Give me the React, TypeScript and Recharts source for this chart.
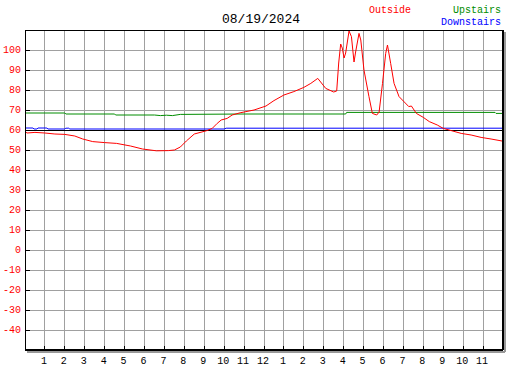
import React from 'react';
import { LineChart, Line, XAxis, YAxis, CartesianGrid, ReferenceLine } from 'recharts';

// x axis: hours of the day, labels shown on 12h clock
const hourTicks = [0, 1, 2, 3, 4, 5, 6, 7, 8, 9, 10, 11, 12, 13, 14, 15, 16, 17, 18, 19, 20, 21, 22, 23, 24];
const hourLabels = ['', '1', '2', '3', '4', '5', '6', '7', '8', '9', '10', '11', '12', '1', '2', '3', '4', '5', '6', '7', '8', '9', '10', '11', ''];
const tempTicks = [-50, -40, -30, -20, -10, 0, 10, 20, 30, 40, 50, 60, 70, 80, 90, 100, 110];

// Outside (red)
const outsideHours = [
  0, 0.1, 0.5, 1, 1.5, 2, 2.5, 2.9, 3.4, 4, 4.6, 5.3, 5.9, 6.6, 7.2, 7.5, 7.8, 8.1, 8.5, 9.1,
  9.4, 9.65, 9.85, 10.15, 10.4, 10.8, 11.5, 12.1, 12.5, 13, 13.5, 14, 14.35, 14.7, 15.1, 15.5,
  15.65, 15.75, 15.85, 15.93, 16.02, 16.1, 16.27, 16.39, 16.52, 16.6, 16.77, 16.86, 17.02, 17.27,
  17.44, 17.66, 17.78, 17.95, 18.11, 18.2, 18.36, 18.53, 18.78, 19.27, 19.4, 19.65, 20, 20.3,
  20.7, 21, 21.4, 21.9, 22.4, 22.9, 23.4, 23.95,
];
const outsideTemps = [
  59.3, 58.5, 58.8, 58.5, 58, 57.8, 57, 55.5, 54.2, 53.7, 53.3, 52, 50.5, 49.6, 49.7, 50, 51.5, 54.5, 58, 59.6,
  60.8, 63.3, 65, 65.8, 67.5, 68.6, 70, 72, 74.7, 77.5, 79.2, 81.3, 83.3, 85.8, 80.8, 79,
  79.5, 93.5, 103, 101, 96, 98.5, 109.5, 106.7, 94, 99, 108.3, 105, 90, 76.7,
  68.3, 67.5, 69, 83.3, 98.3, 102.5, 93.3, 83.3, 76.7, 71.7, 72, 68.3, 66.3, 64.2,
  62.5, 60.8, 59.7, 58.3, 57.5, 56.3, 55.5, 54.5,
];

// Upstairs (green)
const upstairsHours = [0, 2, 2.05, 4.5, 4.55, 6.5, 6.8, 7.1, 7.4, 7.8, 11, 16.1, 16.15, 23.6, 23.65, 24];
const upstairsTemps = [68.5, 68.5, 68, 68, 67.5, 67.5, 67.2, 67.4, 67.2, 67.8, 68, 68, 68.8, 68.8, 68.3, 68.3];

// Downstairs (blue)
const downstairsHours = [0, 0.4, 0.45, 0.6, 0.65, 1.1, 1.15, 2, 2.05, 2.2, 2.25, 10, 10.1, 24];
const downstairsTemps = [61, 61, 60.5, 60.5, 61, 61, 60.5, 60.5, 60.9, 60.9, 60.5, 60.5, 60.9, 60.9];

const outsideData = outsideHours.map((h, i) => ({ h, v: outsideTemps[i] }));
const upstairsData = upstairsHours.map((h, i) => ({ h, v: upstairsTemps[i] }));
const downstairsData = downstairsHours.map((h, i) => ({ h, v: downstairsTemps[i] }));

const FONT = '"Liberation Mono", "DejaVu Sans Mono", monospace';
const RED = '#ff0000';
const GREEN = '#008c00';
const BLUE = '#0000ff';

function YTick(props: any) {
  const { x, y, payload } = props;
  const v = payload.value;
  if (v === -50 || v === 110) return null;
  return (
    <g>
      <line x1={x} x2={x + 5} y1={y} y2={y} stroke="#000" shapeRendering="crispEdges" />
      <text x={x - 4} y={y} textAnchor="end" dominantBaseline="central" fill={RED} fontSize={10} fontFamily={FONT}>
        {v}
      </text>
    </g>
  );
}

function XTick(props: any) {
  const { x, y, payload, index } = props;
  const label = hourLabels[index] ?? '';
  if (payload.value === 0 || payload.value === 24) return null;
  return (
    <g>
      <line x1={x} x2={x} y1={y} y2={y - 4} stroke="#000" shapeRendering="crispEdges" />
      <text x={x - 1} y={y + 11} textAnchor="middle" dominantBaseline="central" fill="#000" fontSize={10} fontFamily={FONT}>
        {label}
      </text>
    </g>
  );
}

// thick frame edge with a grey drop shadow offset by 2px
const shadowEdge = (p: any) => (
  <g>
    <line x1={p.x1 + 2} y1={p.y1 + 2} x2={p.x2 + 2} y2={p.y2 + 2} stroke="#999" strokeWidth={2} shapeRendering="crispEdges" />
    <line x1={p.x1} y1={p.y1} x2={p.x2} y2={p.y2} stroke="#000" strokeWidth={2} shapeRendering="crispEdges" />
  </g>
);

const txt = (extra: React.CSSProperties): React.CSSProperties => ({
  position: 'absolute',
  fontFamily: FONT,
  fontSize: 10,
  lineHeight: '12px',
  whiteSpace: 'nowrap',
  ...extra,
});

export default function App() {
  return (
    <div style={{ position: 'absolute', left: 0, top: 0, width: 527, height: 370, background: '#fff' }}>
      <div style={txt({ left: 0, width: 522, top: 13, fontSize: 13, lineHeight: '14px', textAlign: 'center', color: '#000' })}>
        08/19/2024
      </div>
      <div style={txt({ left: 369, top: 5, color: RED })}>Outside</div>
      <div style={txt({ right: 26, top: 5, color: GREEN })}>Upstairs</div>
      <div style={txt({ right: 26, top: 17, color: BLUE })}>Downstairs</div>

      <LineChart width={527} height={370} margin={{ top: 30, right: 24, bottom: 0, left: 0 }}>
        <CartesianGrid stroke="#a0a0a0" strokeWidth={1} shapeRendering="crispEdges" />
        <XAxis
          type="number"
          dataKey="h"
          domain={[0, 24]}
          ticks={hourTicks}
          interval={0}
          height={20}
          axisLine={false}
          tickLine={false}
          tickSize={0}
          tickMargin={0}
          tick={<XTick />}
        />
        <YAxis
          type="number"
          domain={[-50, 110]}
          ticks={tempTicks}
          interval={0}
          width={25}
          axisLine={false}
          tickLine={false}
          tickSize={0}
          tickMargin={0}
          tick={<YTick />}
        />

        <ReferenceLine y={60} stroke="#000" shapeRendering="crispEdges" />

        <Line data={downstairsData} dataKey="v" type="linear" stroke={BLUE} strokeWidth={1} dot={false} isAnimationActive={false} />
        <Line data={upstairsData} dataKey="v" type="linear" stroke={GREEN} strokeWidth={1} dot={false} isAnimationActive={false} />
        <Line data={outsideData} dataKey="v" type="linear" stroke={RED} strokeWidth={1} dot={false} isAnimationActive={false} />

        <ReferenceLine y={110} stroke="#000" shapeRendering="crispEdges" />
        <ReferenceLine x={0} stroke="#000" shapeRendering="crispEdges" />
        <ReferenceLine x={24} shape={shadowEdge} />
        <ReferenceLine y={-50} shape={shadowEdge} />
      </LineChart>
    </div>
  );
}
